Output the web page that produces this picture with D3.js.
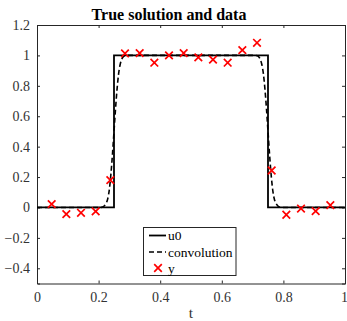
<!DOCTYPE html>
<html><head><meta charset="utf-8">
<script src="https://cdn.jsdelivr.net/npm/d3@7"></script>
<style>body{margin:0;background:#fff;} svg{display:block;}</style>
</head><body>
<script>
// Data
const u0T = [0, 0.25, 0.25, 0.75, 0.75, 1];
const u0V = [0, 0, 1, 1, 0, 0];
const convT = [0, 0.205, 0.215, 0.222, 0.23, 0.235, 0.24, 0.245, 0.25, 0.255, 0.26, 0.265, 0.27, 0.278, 0.285, 0.295,
               0.705, 0.715, 0.722, 0.73, 0.735, 0.74, 0.745, 0.75, 0.755, 0.76, 0.765, 0.77, 0.778, 0.785, 0.795, 1];
const convV = [0, 0.0, 0.005, 0.02, 0.06, 0.12, 0.22, 0.35, 0.5, 0.65, 0.78, 0.88, 0.94, 0.985, 0.998, 1,
               1, 0.998, 0.985, 0.94, 0.88, 0.78, 0.65, 0.5, 0.35, 0.22, 0.12, 0.06, 0.02, 0.005, 0.0, 0];
const yT = [1,2,3,4,5,6,7,8,9,10,11,12,13,14,15,16,17,18,19,20].map(i => i/21);
const yV = [0.022, -0.044, -0.035, -0.026, 0.18, 1.013, 1.015, 0.952, 1.0, 1.015, 0.987, 0.972, 0.952, 1.035, 1.083, 0.243, -0.048, -0.007, -0.024, 0.015];
const xTicks = [0, 0.2, 0.4, 0.6, 0.8, 1];
const yTicks = [-0.4, -0.2, 0, 0.2, 0.4, 0.6, 0.8, 1, 1.2];
const legendLabels = ["u0", "convolution", "y"];

const W = 347, H = 321;
const L = 37, R = 345, T = 25, B = 283.5;
const font = '"Liberation Serif"';
const svg = d3.select("body").append("svg").attr("width", W).attr("height", H);
const x = d3.scaleLinear().domain([0, 1]).range([L, R]);
const y = d3.scaleLinear().domain([-0.5, 1.2]).range([B, T]);
const axisColor = "#262626";

// title
svg.append("text").attr("x", 169).attr("y", 20).attr("text-anchor", "middle")
  .style("font-family", font).attr("font-weight", "bold").attr("font-size", 16).attr("fill", "#000")
  .text("True solution and data");

// axes
const fmt = d => (Math.abs(d) < 1e-9 ? "0" : d3.format("~g")(+d.toFixed(2)));
const gx = svg.append("g").attr("transform", `translate(0,${B})`)
  .call(d3.axisBottom(x).tickValues(xTicks).tickSize(-3).tickPadding(9).tickFormat(fmt));
const gxt = svg.append("g").attr("transform", `translate(0,${T})`)
  .call(d3.axisTop(x).tickValues(xTicks).tickSize(-3).tickFormat(""));
const gy = svg.append("g").attr("transform", `translate(${L},0)`)
  .call(d3.axisLeft(y).tickValues(yTicks).tickSize(-3).tickPadding(7).tickFormat(fmt));
const gyr = svg.append("g").attr("transform", `translate(${R},0)`)
  .call(d3.axisRight(y).tickValues(yTicks).tickSize(-3).tickFormat(""));
[gx, gxt, gy, gyr].forEach(g => {
  g.attr("font-family", null);
  g.selectAll("path.domain").attr("stroke", axisColor).attr("stroke-width", 1);
  g.selectAll(".tick line").attr("stroke", axisColor).attr("stroke-width", 1);
  g.selectAll(".tick text").style("font-family", font).attr("font-size", 14).attr("fill", "#333");
});
gx.selectAll(".tick text").filter(d => d === 1).attr("dx", -1);

// x label
svg.append("text").attr("x", (L + R) / 2).attr("y", 318).attr("text-anchor", "middle")
  .style("font-family", font).attr("font-size", 15.5).attr("fill", "#333").text("t");

// lines
const line = d3.line().x(d => x(d[0])).y(d => y(d[1]));
svg.append("path").datum(u0T.map((t, i) => [t, u0V[i]])).attr("d", line)
  .attr("fill", "none").attr("stroke", "#000").attr("stroke-width", 1.8);
svg.append("path").datum(convT.map((t, i) => [t, convV[i]]))
  .attr("d", d3.line().x(d => x(d[0])).y(d => y(d[1])).curve(d3.curveMonotoneX))
  .attr("fill", "none").attr("stroke", "#000").attr("stroke-width", 1.6).attr("stroke-dasharray", "5,3");

// markers
const ms = 3.8;
const mk = svg.append("g");
yT.forEach((t, i) => {
  const cx = x(t), cy = y(yV[i]);
  mk.append("path").attr("d", `M${cx-ms},${cy-ms}L${cx+ms},${cy+ms}M${cx-ms},${cy+ms}L${cx+ms},${cy-ms}`)
    .attr("stroke", "#ff0000").attr("stroke-width", 1.7).attr("fill", "none");
});

// legend
const lg = svg.append("g");
lg.append("rect").attr("x", 143.5).attr("y", 227.5).attr("width", 92.5).attr("height", 48)
  .attr("fill", "#fff").attr("stroke", axisColor).attr("stroke-width", 1);
const rows = [235.5, 252, 268];
lg.append("line").attr("x1", 149).attr("x2", 166).attr("y1", rows[0]).attr("y2", rows[0])
  .attr("stroke", "#000").attr("stroke-width", 1.8);
lg.append("line").attr("x1", 149).attr("x2", 166).attr("y1", rows[1]).attr("y2", rows[1])
  .attr("stroke", "#000").attr("stroke-width", 1.6).attr("stroke-dasharray", "5,3");
{
  const cx = 158, cy = rows[2];
  lg.append("path").attr("d", `M${cx-ms},${cy-ms}L${cx+ms},${cy+ms}M${cx-ms},${cy+ms}L${cx+ms},${cy-ms}`)
    .attr("stroke", "#ff0000").attr("stroke-width", 1.7);
}
legendLabels.forEach((s, i) => {
  lg.append("text").attr("x", 168).attr("y", rows[i] + 4.5).style("font-family", font)
    .attr("font-size", 13.5).attr("fill", "#000").text(s);
});
</script>
</body></html>
